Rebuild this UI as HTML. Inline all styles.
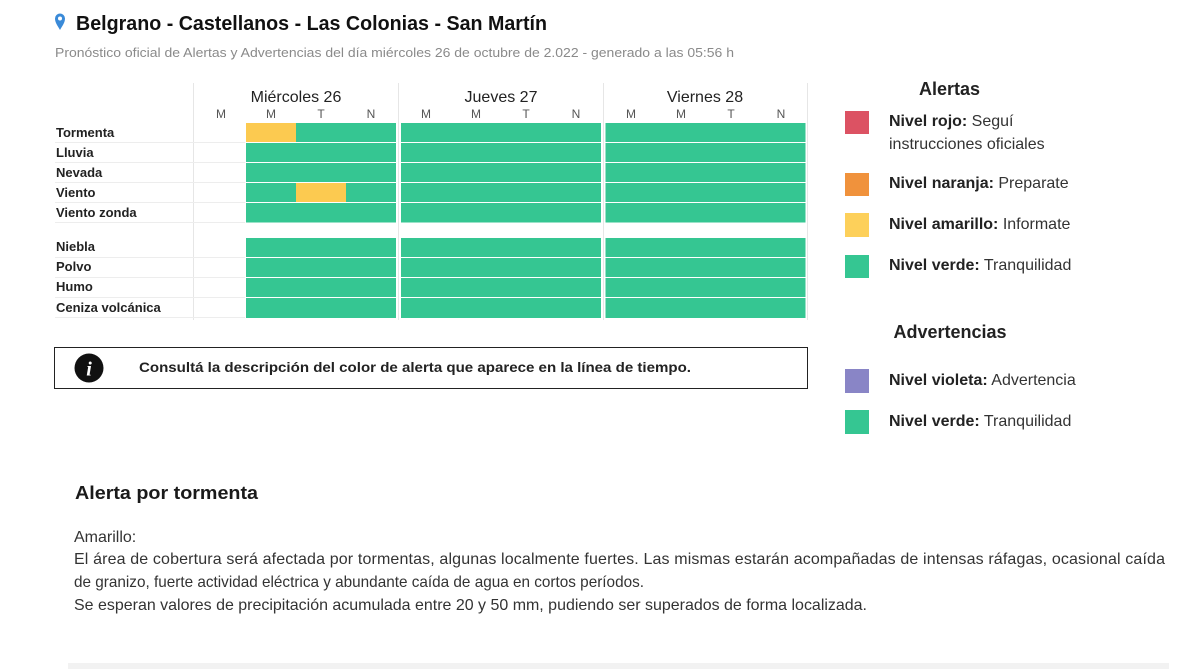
<!DOCTYPE html>
<html><head><meta charset="utf-8"><style>
html,body{margin:0;padding:0;background:#fff;}
svg{display:block;}
text{font-family:"Liberation Sans",Arial,sans-serif;}
</style></head><body>
<svg width="1200" height="669" viewBox="0 0 1200 669" xmlns="http://www.w3.org/2000/svg">
<rect width="1200" height="669" fill="#fff"/>
<!-- pin -->
<path d="M60 30 C57.5 25.5 55 22.5 55 18.5 A5 5 0 0 1 65 18.5 C65 22.5 62.5 25.5 60 30 Z" fill="#3a8ad8"/>
<circle cx="60" cy="18.5" r="2" fill="#fff"/>
<text x="76" y="30" font-size="20" font-weight="bold" fill="#111" textLength="471" lengthAdjust="spacingAndGlyphs">Belgrano - Castellanos - Las Colonias - San Martín</text>
<text x="55" y="57" font-size="13" fill="#8a8a8a" textLength="679" lengthAdjust="spacingAndGlyphs">Pronóstico oficial de Alertas y Advertencias del día miércoles 26 de octubre de 2.022 - generado a las 05:56 h</text>

<!-- separators -->
<g stroke="#e6e6e6" stroke-width="1">
<line x1="193.5" y1="83" x2="193.5" y2="320"/>
<line x1="398.5" y1="83" x2="398.5" y2="320"/>
<line x1="603.5" y1="83" x2="603.5" y2="320"/>
<line x1="807.5" y1="83" x2="807.5" y2="320"/>
</g>
<g stroke="#ededed" stroke-width="1">
<line x1="55" y1="142.5" x2="245" y2="142.5"/>
<line x1="55" y1="162.5" x2="245" y2="162.5"/>
<line x1="55" y1="182.5" x2="245" y2="182.5"/>
<line x1="55" y1="202.5" x2="245" y2="202.5"/>
<line x1="55" y1="222.5" x2="245" y2="222.5"/>
<line x1="55" y1="257.5" x2="245" y2="257.5"/>
<line x1="55" y1="277.5" x2="245" y2="277.5"/>
<line x1="55" y1="297.5" x2="245" y2="297.5"/>
<line x1="55" y1="317.5" x2="245" y2="317.5"/>
</g>

<!-- day headers -->
<text x="296" y="102" font-size="16" fill="#222" text-anchor="middle">Miércoles 26</text>
<text x="501" y="102" font-size="16" fill="#222" text-anchor="middle">Jueves 27</text>
<text x="705" y="102" font-size="16" fill="#222" text-anchor="middle">Viernes 28</text>
<g font-size="12" fill="#555" text-anchor="middle">
<text x="221" y="118">M</text><text x="271" y="118">M</text><text x="321" y="118">T</text><text x="371" y="118">N</text>
<text x="426" y="118">M</text><text x="476" y="118">M</text><text x="526" y="118">T</text><text x="576" y="118">N</text>
<text x="631" y="118">M</text><text x="681" y="118">M</text><text x="731" y="118">T</text><text x="781" y="118">N</text>
</g>

<!-- row labels -->
<g font-size="13" font-weight="bold" fill="#222">
<text x="56" y="137">Tormenta</text>
<text x="56" y="157">Lluvia</text>
<text x="56" y="177">Nevada</text>
<text x="56" y="197">Viento</text>
<text x="56" y="217">Viento zonda</text>
<text x="56" y="251">Niebla</text>
<text x="56" y="271">Polvo</text>
<text x="56" y="291">Humo</text>
<text x="56" y="312">Ceniza volcánica</text>
</g>

<!-- cells -->
<g fill="#35c692">
<rect x="246" y="123" width="150" height="19"/><rect x="401" y="123" width="200" height="19"/><rect x="605.5" y="123" width="200" height="19"/>
<rect x="246" y="143" width="150" height="19"/><rect x="401" y="143" width="200" height="19"/><rect x="605.5" y="143" width="200" height="19"/>
<rect x="246" y="163" width="150" height="19"/><rect x="401" y="163" width="200" height="19"/><rect x="605.5" y="163" width="200" height="19"/>
<rect x="246" y="183" width="150" height="19"/><rect x="401" y="183" width="200" height="19"/><rect x="605.5" y="183" width="200" height="19"/>
<rect x="246" y="203" width="150" height="19.5"/><rect x="401" y="203" width="200" height="19.5"/><rect x="605.5" y="203" width="200" height="19.5"/>
<rect x="246" y="238" width="150" height="19"/><rect x="401" y="238" width="200" height="19"/><rect x="605.5" y="238" width="200" height="19"/>
<rect x="246" y="258" width="150" height="19"/><rect x="401" y="258" width="200" height="19"/><rect x="605.5" y="258" width="200" height="19"/>
<rect x="246" y="278" width="150" height="19"/><rect x="401" y="278" width="200" height="19"/><rect x="605.5" y="278" width="200" height="19"/>
<rect x="246" y="298" width="150" height="20"/><rect x="401" y="298" width="200" height="20"/><rect x="605.5" y="298" width="200" height="20"/>
</g>
<g fill="#fcca50">
<rect x="246" y="123" width="50" height="19"/>
<rect x="296" y="183" width="50" height="19"/>
</g>

<!-- info box -->
<rect x="54.5" y="347.5" width="753" height="41" fill="#fff" stroke="#222" stroke-width="1"/>
<circle cx="89" cy="368" r="14.5" fill="#111"/>
<text x="89" y="375.5" font-size="20" font-weight="bold" font-style="italic" fill="#fff" text-anchor="middle" style="font-family:'Liberation Serif',serif">i</text>
<text x="139" y="372" font-size="14" font-weight="bold" fill="#222" textLength="552" lengthAdjust="spacingAndGlyphs">Consultá la descripción del color de alerta que aparece en la línea de tiempo.</text>

<!-- legend -->
<text x="949.5" y="95" font-size="18" font-weight="bold" fill="#222" text-anchor="middle">Alertas</text>
<rect x="845" y="111" width="24" height="23" fill="#dc5263"/>
<rect x="845" y="173" width="24" height="23" fill="#f0923c"/>
<rect x="845" y="213" width="24" height="24" fill="#fdd05a"/>
<rect x="845" y="255" width="24" height="23" fill="#35c692"/>
<g font-size="16" fill="#333">
<text x="889" y="126"><tspan font-weight="bold" fill="#222">Nivel rojo:</tspan> Seguí</text>
<text x="889" y="149">instrucciones oficiales</text>
<text x="889" y="188"><tspan font-weight="bold" fill="#222">Nivel naranja:</tspan> Preparate</text>
<text x="889" y="229"><tspan font-weight="bold" fill="#222">Nivel amarillo:</tspan> Informate</text>
<text x="889" y="270"><tspan font-weight="bold" fill="#222">Nivel verde:</tspan> Tranquilidad</text>
</g>
<text x="950" y="338" font-size="18" font-weight="bold" fill="#222" text-anchor="middle">Advertencias</text>
<rect x="845" y="369" width="24" height="24" fill="#8985c6"/>
<rect x="845" y="410" width="24" height="24" fill="#35c692"/>
<g font-size="16" fill="#333">
<text x="889" y="385"><tspan font-weight="bold" fill="#222">Nivel violeta:</tspan> Advertencia</text>
<text x="889" y="426"><tspan font-weight="bold" fill="#222">Nivel verde:</tspan> Tranquilidad</text>
</g>

<!-- description -->
<text x="75" y="499" font-size="18" font-weight="bold" fill="#1a1a1a" textLength="183" lengthAdjust="spacingAndGlyphs">Alerta por tormenta</text>
<g font-size="16" fill="#333">
<text x="74" y="542">Amarillo:</text>
<text x="74" y="564" textLength="1091" lengthAdjust="spacing">El área de cobertura será afectada por tormentas, algunas localmente fuertes. Las mismas estarán acompañadas de intensas ráfagas, ocasional caída</text>
<text x="74" y="587" textLength="570" lengthAdjust="spacingAndGlyphs">de granizo, fuerte actividad eléctrica y abundante caída de agua en cortos períodos.</text>
<text x="74" y="610" textLength="793" lengthAdjust="spacingAndGlyphs">Se esperan valores de precipitación acumulada entre 20 y 50 mm, pudiendo ser superados de forma localizada.</text>
</g>
<rect x="68" y="663" width="1101" height="6" fill="#f2f2f2"/>
</svg>
</body></html>
